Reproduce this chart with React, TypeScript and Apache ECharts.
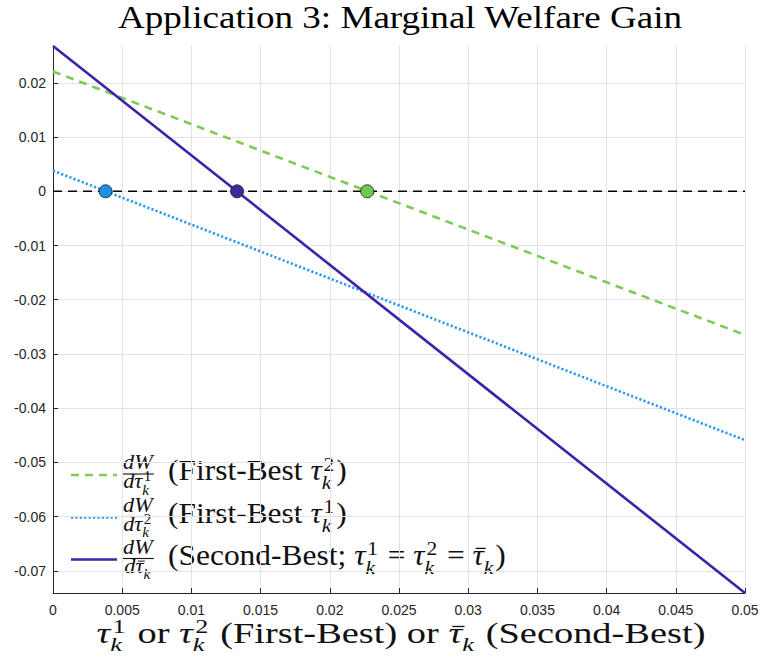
import React, { useEffect, useRef } from "react";
import * as echarts from "echarts";

// ---- data ----
const xEnds = [0, 0.05];
const dWdTau1 = [0.0221, -0.0265]; // First-Best tau^2 (green dashed)
const dWdTau2 = [0.0038, -0.0459]; // First-Best tau^1 (blue dotted)
const dWdTauBar = [0.0268, -0.0741]; // Second-Best (purple solid)
const zeroLevel = [0, 0];
const optimaX = [0.0038, 0.0133, 0.0227]; // blue, purple, green zero crossings
const yMin = -0.0741;
const yMax = 0.0268;
const xTickStep = 0.005;
const yTickStep = 0.01;

const GREEN = "#7dcb55";
const BLUE = "#2a98ee";
const PURPLE = "#3b22a8";
const MARK_FILL = ["#1f8fe6", "#3d2aa0", "#76c64f"];
const INK = "#111111";
const SERIF = "'Liberation Serif', 'Times New Roman', serif";
const SANS = "'Liberation Sans', Arial, sans-serif";
const STRETCH = 1.085;

let mctx: CanvasRenderingContext2D | null = null;
function measure(t: string, size: number, italic: boolean): number {
  if (!mctx) mctx = document.createElement("canvas").getContext("2d");
  mctx!.font = `${italic ? "italic " : ""}${size}px ${SERIF}`;
  return mctx!.measureText(t).width;
}

type Item = { t: string; it?: boolean; sup?: string; sub?: string; bar?: boolean };

function txt(t: string, x: number, base: number, s: number, it: boolean) {
  return {
    type: "text",
    x,
    y: base - 0.34 * s,
    silent: true,
    style: {
      text: t,
      fontSize: s,
      fontFamily: SERIF,
      fontStyle: it ? "italic" : "normal",
      fontWeight: "normal",
      fill: INK,
      verticalAlign: "middle",
      align: "left",
    },
  };
}

function mathText(items: Item[], size: number, baseline: number) {
  let x = 0;
  const els: any[] = [];
  for (const item of items) {
    const it = !!item.it;
    els.push(txt(item.t, x, baseline, size, it));
    const w = measure(item.t, size, it);
    if (item.bar) {
      const yb = baseline - 0.58 * size;
      els.push({
        type: "line",
        silent: true,
        shape: { x1: x + 0.1 * size, y1: yb, x2: x + w + 0.06 * size, y2: yb },
        style: { stroke: INK, lineWidth: Math.max(1, 0.045 * size) },
      });
    }
    x += w;
    if (item.sup || item.sub) {
      const ss = size * 0.68;
      let ww = 0;
      if (item.sup) {
        els.push(txt(item.sup, x + 0.06 * size, baseline - 0.35 * size, ss, false));
        ww = Math.max(ww, measure(item.sup, ss, false) + 0.06 * size);
      }
      if (item.sub) {
        els.push(txt(item.sub, x, baseline + 0.3 * size, ss, true));
        ww = Math.max(ww, measure(item.sub, ss, true));
      }
      x += ww + 0.06 * size;
    }
  }
  return { els, width: x };
}

function fraction(x0: number, barY: number, denom: Item[], fs: number) {
  const num = mathText([{ t: "dW", it: true }], fs, barY - 4.5);
  const den = mathText(denom, fs, barY + 14.5);
  const w = Math.max(num.width, den.width) + 2;
  return {
    type: "group",
    x: x0,
    y: 0,
    scaleX: STRETCH,
    children: [
      { type: "group", x: (w - num.width) / 2, children: num.els },
      {
        type: "line",
        silent: true,
        shape: { x1: 0, y1: barY, x2: w, y2: barY },
        style: { stroke: INK, lineWidth: 1.1 },
      },
      { type: "group", x: (w - den.width) / 2, children: den.els },
    ],
  };
}

function legendRow(barY: number, color: string, dash: any, denom: Item[], label: Item[]) {
  const B = barY + 6.7;
  const main = mathText(label, 29, B);
  return [
    {
      type: "line",
      silent: true,
      shape: { x1: 71, y1: barY + 1, x2: 117, y2: barY + 1 },
      style: { stroke: color, lineWidth: 2.6, lineDash: dash },
    },
    fraction(122, barY, denom, 20.5),
    { type: "group", x: 168, y: 0, scaleX: STRETCH, children: main.els },
  ];
}

const xLabelItems: Item[] = [
  { t: "τ", it: true, sup: "1", sub: "k" },
  { t: " or " },
  { t: "τ", it: true, sup: "2", sub: "k" },
  { t: " (First-Best) or " },
  { t: "τ", it: true, bar: true, sub: "k" },
  { t: " (Second-Best)" },
];

export default function App() {
  const ref = useRef<HTMLDivElement>(null);
  useEffect(() => {
    const chart = echarts.init(ref.current!, undefined, { renderer: "svg" });

    const fmt = (v: number) => String(+v.toFixed(4));

    const xlSize = 28.5;
    const xl = mathText(xLabelItems, xlSize, 643);
    const xlScale = 609 / xl.width;

    const titleText = "Application 3: Marginal Welfare Gain";
    const titleSize = 32;
    const titleScale = 565 / measure(titleText, titleSize, false);

    const graphic: any[] = [
      {
        type: "text",
        x: 400,
        y: 27.5 - 0.34 * titleSize,
        scaleX: titleScale,
        silent: true,
        style: {
          text: titleText,
          fontSize: titleSize,
          fontFamily: SERIF,
          fontWeight: "normal",
          fill: "#000",
          align: "center",
          verticalAlign: "middle",
        },
      },
      {
        type: "group",
        x: 401 - (xl.width * xlScale) / 2,
        y: 0,
        scaleX: xlScale,
        children: xl.els,
      },
      ...legendRow(
        474,
        GREEN,
        [8, 6],
        [{ t: "d", it: true }, { t: "τ", it: true, sup: "1", sub: "k" }],
        [{ t: "(First-Best " }, { t: "τ", it: true, sup: "2", sub: "k" }, { t: ")" }]
      ),
      ...legendRow(
        516.5,
        BLUE,
        [2.2, 2.2],
        [{ t: "d", it: true }, { t: "τ", it: true, sup: "2", sub: "k" }],
        [{ t: "(First-Best " }, { t: "τ", it: true, sup: "1", sub: "k" }, { t: ")" }]
      ),
      ...legendRow(
        558.5,
        PURPLE,
        null,
        [{ t: "d", it: true }, { t: "τ", it: true, bar: true, sub: "k" }],
        [
          { t: "(Second-Best; " },
          { t: "τ", it: true, sup: "1", sub: "k" },
          { t: " = " },
          { t: "τ", it: true, sup: "2", sub: "k" },
          { t: " = " },
          { t: "τ", it: true, bar: true, sub: "k" },
          { t: ")" },
        ]
      ),
    ];

    const pts = (ys: number[]) => xEnds.map((x, i) => [x, ys[i]]);

    chart.setOption({
      animation: false,
      backgroundColor: "#ffffff",
      grid: { left: 53, right: 18, top: 46, bottom: 69, containLabel: false, outerBoundsMode: "none" },
      xAxis: {
        type: "value",
        min: 0,
        max: 0.05,
        interval: xTickStep,
        axisLine: { show: true, onZero: false, lineStyle: { color: "#262626", width: 1 } },
        axisTick: { show: true, inside: true, length: 5, lineStyle: { color: "#262626" } },
        axisLabel: { formatter: fmt, color: "#262626", fontFamily: SANS, fontSize: 14, margin: 10 },
        splitLine: { show: true, lineStyle: { color: "#e3e3e3", width: 1 } },
      },
      yAxis: {
        type: "value",
        min: yMin,
        max: yMax,
        splitNumber: 10,
        minInterval: yTickStep,
        maxInterval: yTickStep,
        axisLine: { show: true, onZero: false, lineStyle: { color: "#262626", width: 1 } },
        axisTick: { show: true, inside: true, length: 5, lineStyle: { color: "#262626" } },
        axisLabel: {
          formatter: fmt,
          color: "#262626",
          fontFamily: SANS,
          fontSize: 14,
          margin: 7,
          showMinLabel: false,
          showMaxLabel: false,
        },
        splitLine: { show: true, showMinLine: false, showMaxLine: false, lineStyle: { color: "#e3e3e3", width: 1 } },
      },
      series: [
        {
          name: "zero",
          type: "line",
          data: pts(zeroLevel),
          showSymbol: false,
          silent: true,
          lineStyle: { color: "#000", width: 1.4, type: [9, 6] },
          z: 2,
        },
        {
          name: "dW/dτ1 (First-Best τ2)",
          type: "line",
          data: pts(dWdTau1),
          showSymbol: false,
          lineStyle: { color: GREEN, width: 2.6, type: [8, 6] },
          z: 3,
        },
        {
          name: "dW/dτ2 (First-Best τ1)",
          type: "line",
          data: pts(dWdTau2),
          showSymbol: false,
          lineStyle: { color: BLUE, width: 2.6, type: [2.2, 2.2] },
          z: 3,
        },
        {
          name: "dW/dτ̄ (Second-Best)",
          type: "line",
          data: pts(dWdTauBar),
          showSymbol: false,
          lineStyle: { color: PURPLE, width: 2.6 },
          z: 4,
        },
        {
          name: "optima",
          type: "scatter",
          symbolSize: 13,
          z: 5,
          data: optimaX.map((x, i) => ({
            value: [x, 0],
            itemStyle: { color: MARK_FILL[i], borderColor: "#1c1c1c", borderWidth: 0.8, opacity: 1 },
          })),
        },
      ],
      graphic,
    });
    return () => chart.dispose();
  }, []);
  return <div ref={ref} style={{ position: "fixed", left: 0, top: 0, width: 763, height: 662 }} />;
}
